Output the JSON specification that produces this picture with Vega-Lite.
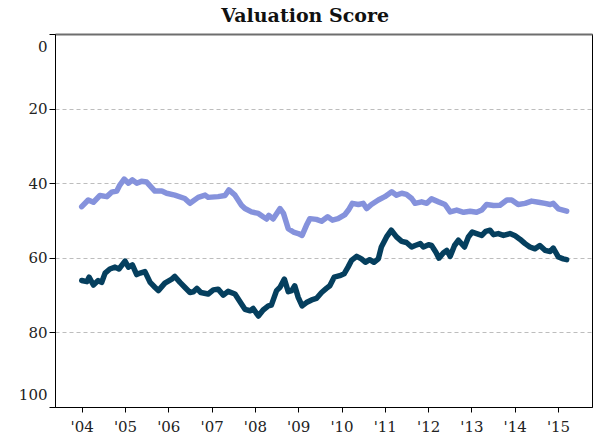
{
  "$schema": "https://vega.github.io/schema/vega-lite/v6.json",
  "width": 537,
  "height": 373,
  "autosize": "none",
  "padding": {"left": 55, "top": 34, "right": 5, "bottom": 31},
  "background": "white",
  "title": {"text": "Valuation Score", "font": "DejaVu Serif", "fontSize": 19, "fontWeight": "bold", "color": "#111111", "frame": "bounds", "anchor": "middle", "offset": 8},
  "config": {
    "view": {"stroke": "#000000", "strokeWidth": 1},
    "axis": {"labelFont": "DejaVu Serif", "labelFontSize": 15, "labelColor": "#222222", "domainColor": "#000000", "tickColor": "#000000", "title": null}
  },
  "data": {"values": [
    {"s": "light", "year": 2004.00, "v": 46.3}, {"s": "light", "year": 2004.15, "v": 44.5}, {"s": "light", "year": 2004.27, "v": 45.1},
    {"s": "light", "year": 2004.42, "v": 43.3}, {"s": "light", "year": 2004.58, "v": 43.6}, {"s": "light", "year": 2004.69, "v": 42.4},
    {"s": "light", "year": 2004.81, "v": 42.1}, {"s": "light", "year": 2004.88, "v": 40.5}, {"s": "light", "year": 2004.98, "v": 38.9},
    {"s": "light", "year": 2005.08, "v": 40.0}, {"s": "light", "year": 2005.17, "v": 39.1}, {"s": "light", "year": 2005.27, "v": 40.0},
    {"s": "light", "year": 2005.38, "v": 39.5}, {"s": "light", "year": 2005.50, "v": 39.7}, {"s": "light", "year": 2005.69, "v": 42.1},
    {"s": "light", "year": 2005.85, "v": 42.1}, {"s": "light", "year": 2005.96, "v": 42.7}, {"s": "light", "year": 2006.15, "v": 43.2},
    {"s": "light", "year": 2006.38, "v": 44.1}, {"s": "light", "year": 2006.50, "v": 45.4}, {"s": "light", "year": 2006.69, "v": 43.8},
    {"s": "light", "year": 2006.85, "v": 43.2}, {"s": "light", "year": 2006.92, "v": 43.8}, {"s": "light", "year": 2007.15, "v": 43.6},
    {"s": "light", "year": 2007.31, "v": 43.3}, {"s": "light", "year": 2007.40, "v": 41.8}, {"s": "light", "year": 2007.54, "v": 43.2},
    {"s": "light", "year": 2007.69, "v": 45.9}, {"s": "light", "year": 2007.77, "v": 46.8}, {"s": "light", "year": 2007.92, "v": 47.7},
    {"s": "light", "year": 2008.08, "v": 48.1}, {"s": "light", "year": 2008.19, "v": 49.0}, {"s": "light", "year": 2008.27, "v": 49.6},
    {"s": "light", "year": 2008.32, "v": 48.6}, {"s": "light", "year": 2008.42, "v": 49.6}, {"s": "light", "year": 2008.58, "v": 46.8},
    {"s": "light", "year": 2008.66, "v": 48.1}, {"s": "light", "year": 2008.77, "v": 52.2}, {"s": "light", "year": 2008.89, "v": 53.1},
    {"s": "light", "year": 2009.00, "v": 53.5}, {"s": "light", "year": 2009.09, "v": 54.0}, {"s": "light", "year": 2009.19, "v": 51.3},
    {"s": "light", "year": 2009.27, "v": 49.5}, {"s": "light", "year": 2009.42, "v": 49.7}, {"s": "light", "year": 2009.54, "v": 50.2},
    {"s": "light", "year": 2009.68, "v": 49.0}, {"s": "light", "year": 2009.79, "v": 49.9}, {"s": "light", "year": 2009.92, "v": 49.5},
    {"s": "light", "year": 2010.08, "v": 48.4}, {"s": "light", "year": 2010.16, "v": 47.2}, {"s": "light", "year": 2010.25, "v": 45.4},
    {"s": "light", "year": 2010.39, "v": 45.7}, {"s": "light", "year": 2010.50, "v": 45.4}, {"s": "light", "year": 2010.58, "v": 46.8},
    {"s": "light", "year": 2010.69, "v": 45.7}, {"s": "light", "year": 2010.85, "v": 44.5}, {"s": "light", "year": 2011.00, "v": 43.6},
    {"s": "light", "year": 2011.16, "v": 42.3}, {"s": "light", "year": 2011.27, "v": 43.2}, {"s": "light", "year": 2011.39, "v": 42.7},
    {"s": "light", "year": 2011.50, "v": 43.0}, {"s": "light", "year": 2011.62, "v": 44.1}, {"s": "light", "year": 2011.70, "v": 45.4},
    {"s": "light", "year": 2011.85, "v": 45.0}, {"s": "light", "year": 2011.97, "v": 45.4}, {"s": "light", "year": 2012.08, "v": 44.2},
    {"s": "light", "year": 2012.24, "v": 45.0}, {"s": "light", "year": 2012.39, "v": 45.7}, {"s": "light", "year": 2012.51, "v": 47.7},
    {"s": "light", "year": 2012.66, "v": 47.2}, {"s": "light", "year": 2012.82, "v": 47.8}, {"s": "light", "year": 2012.97, "v": 47.5},
    {"s": "light", "year": 2013.12, "v": 47.8}, {"s": "light", "year": 2013.24, "v": 47.2}, {"s": "light", "year": 2013.35, "v": 45.7},
    {"s": "light", "year": 2013.51, "v": 46.0}, {"s": "light", "year": 2013.66, "v": 45.9}, {"s": "light", "year": 2013.82, "v": 44.5},
    {"s": "light", "year": 2013.93, "v": 44.5}, {"s": "light", "year": 2014.08, "v": 45.7}, {"s": "light", "year": 2014.24, "v": 45.4},
    {"s": "light", "year": 2014.39, "v": 44.8}, {"s": "light", "year": 2014.55, "v": 45.1}, {"s": "light", "year": 2014.70, "v": 45.4},
    {"s": "light", "year": 2014.82, "v": 45.7}, {"s": "light", "year": 2014.89, "v": 45.4}, {"s": "light", "year": 2015.01, "v": 46.9},
    {"s": "light", "year": 2015.20, "v": 47.5},
    {"s": "dark", "year": 2004.00, "v": 66.1}, {"s": "dark", "year": 2004.12, "v": 66.4}, {"s": "dark", "year": 2004.17, "v": 65.2},
    {"s": "dark", "year": 2004.27, "v": 67.3}, {"s": "dark", "year": 2004.38, "v": 66.1}, {"s": "dark", "year": 2004.46, "v": 66.6},
    {"s": "dark", "year": 2004.54, "v": 64.1}, {"s": "dark", "year": 2004.65, "v": 63.0}, {"s": "dark", "year": 2004.77, "v": 62.5},
    {"s": "dark", "year": 2004.86, "v": 63.0}, {"s": "dark", "year": 2005.00, "v": 60.9}, {"s": "dark", "year": 2005.08, "v": 62.5},
    {"s": "dark", "year": 2005.17, "v": 61.9}, {"s": "dark", "year": 2005.27, "v": 64.5}, {"s": "dark", "year": 2005.35, "v": 64.1},
    {"s": "dark", "year": 2005.46, "v": 63.7}, {"s": "dark", "year": 2005.58, "v": 66.6}, {"s": "dark", "year": 2005.69, "v": 67.9},
    {"s": "dark", "year": 2005.77, "v": 68.8}, {"s": "dark", "year": 2005.92, "v": 66.8}, {"s": "dark", "year": 2006.08, "v": 65.7},
    {"s": "dark", "year": 2006.15, "v": 65.0}, {"s": "dark", "year": 2006.27, "v": 66.6}, {"s": "dark", "year": 2006.38, "v": 67.9},
    {"s": "dark", "year": 2006.50, "v": 69.3}, {"s": "dark", "year": 2006.58, "v": 69.1}, {"s": "dark", "year": 2006.66, "v": 68.2},
    {"s": "dark", "year": 2006.75, "v": 69.3}, {"s": "dark", "year": 2006.92, "v": 69.7}, {"s": "dark", "year": 2007.04, "v": 68.6},
    {"s": "dark", "year": 2007.15, "v": 68.4}, {"s": "dark", "year": 2007.27, "v": 70.0}, {"s": "dark", "year": 2007.38, "v": 69.0},
    {"s": "dark", "year": 2007.54, "v": 69.7}, {"s": "dark", "year": 2007.69, "v": 72.4}, {"s": "dark", "year": 2007.77, "v": 73.8},
    {"s": "dark", "year": 2007.89, "v": 74.2}, {"s": "dark", "year": 2007.96, "v": 73.6}, {"s": "dark", "year": 2008.08, "v": 75.6},
    {"s": "dark", "year": 2008.19, "v": 74.0}, {"s": "dark", "year": 2008.31, "v": 72.9}, {"s": "dark", "year": 2008.38, "v": 72.7},
    {"s": "dark", "year": 2008.50, "v": 68.8}, {"s": "dark", "year": 2008.58, "v": 67.9}, {"s": "dark", "year": 2008.68, "v": 65.7},
    {"s": "dark", "year": 2008.77, "v": 69.1}, {"s": "dark", "year": 2008.85, "v": 68.8}, {"s": "dark", "year": 2008.92, "v": 67.5},
    {"s": "dark", "year": 2009.00, "v": 70.6}, {"s": "dark", "year": 2009.09, "v": 72.9}, {"s": "dark", "year": 2009.19, "v": 72.0},
    {"s": "dark", "year": 2009.31, "v": 71.3}, {"s": "dark", "year": 2009.42, "v": 70.9}, {"s": "dark", "year": 2009.54, "v": 69.3},
    {"s": "dark", "year": 2009.65, "v": 68.2}, {"s": "dark", "year": 2009.73, "v": 67.5}, {"s": "dark", "year": 2009.83, "v": 65.2},
    {"s": "dark", "year": 2009.96, "v": 64.8}, {"s": "dark", "year": 2010.06, "v": 64.3}, {"s": "dark", "year": 2010.15, "v": 62.5},
    {"s": "dark", "year": 2010.23, "v": 60.7}, {"s": "dark", "year": 2010.35, "v": 59.6}, {"s": "dark", "year": 2010.46, "v": 60.3},
    {"s": "dark", "year": 2010.55, "v": 61.2}, {"s": "dark", "year": 2010.65, "v": 60.5}, {"s": "dark", "year": 2010.75, "v": 61.2},
    {"s": "dark", "year": 2010.85, "v": 60.3}, {"s": "dark", "year": 2010.92, "v": 57.1}, {"s": "dark", "year": 2011.04, "v": 54.4},
    {"s": "dark", "year": 2011.15, "v": 52.6}, {"s": "dark", "year": 2011.27, "v": 54.4}, {"s": "dark", "year": 2011.39, "v": 55.6},
    {"s": "dark", "year": 2011.50, "v": 55.9}, {"s": "dark", "year": 2011.62, "v": 57.1}, {"s": "dark", "year": 2011.70, "v": 56.7},
    {"s": "dark", "year": 2011.82, "v": 56.2}, {"s": "dark", "year": 2011.89, "v": 57.1}, {"s": "dark", "year": 2012.01, "v": 56.5},
    {"s": "dark", "year": 2012.08, "v": 56.7}, {"s": "dark", "year": 2012.18, "v": 58.5}, {"s": "dark", "year": 2012.25, "v": 60.1},
    {"s": "dark", "year": 2012.35, "v": 58.7}, {"s": "dark", "year": 2012.43, "v": 58.0}, {"s": "dark", "year": 2012.51, "v": 59.6},
    {"s": "dark", "year": 2012.61, "v": 56.7}, {"s": "dark", "year": 2012.70, "v": 55.3}, {"s": "dark", "year": 2012.84, "v": 57.1},
    {"s": "dark", "year": 2012.93, "v": 54.4}, {"s": "dark", "year": 2013.02, "v": 53.1}, {"s": "dark", "year": 2013.12, "v": 53.5},
    {"s": "dark", "year": 2013.24, "v": 54.0}, {"s": "dark", "year": 2013.33, "v": 52.9}, {"s": "dark", "year": 2013.43, "v": 52.6},
    {"s": "dark", "year": 2013.51, "v": 53.8}, {"s": "dark", "year": 2013.62, "v": 53.5}, {"s": "dark", "year": 2013.74, "v": 54.0},
    {"s": "dark", "year": 2013.89, "v": 53.5}, {"s": "dark", "year": 2014.01, "v": 54.1}, {"s": "dark", "year": 2014.12, "v": 55.0},
    {"s": "dark", "year": 2014.24, "v": 56.2}, {"s": "dark", "year": 2014.35, "v": 57.1}, {"s": "dark", "year": 2014.47, "v": 57.6},
    {"s": "dark", "year": 2014.58, "v": 56.7}, {"s": "dark", "year": 2014.70, "v": 58.0}, {"s": "dark", "year": 2014.82, "v": 58.3},
    {"s": "dark", "year": 2014.89, "v": 57.4}, {"s": "dark", "year": 2015.01, "v": 59.8}, {"s": "dark", "year": 2015.12, "v": 60.3},
    {"s": "dark", "year": 2015.20, "v": 60.5}
  ]},
  "resolve": {"axis": {"x": "independent", "y": "independent"}},
  "layer": [
    {
      "transform": [{"filter": "datum.s === 'light'"}],
      "mark": {"type": "line", "color": "#8592dc", "strokeWidth": 5.5, "strokeCap": "round", "strokeJoin": "round"},
      "encoding": {
        "x": {"field": "year", "type": "quantitative",
              "scale": {"domain": [2003.383, 2015.785], "nice": false, "zero": false},
              "axis": {"orient": "bottom", "values": [2004, 2005, 2006, 2007, 2008, 2009, 2010, 2011, 2012, 2013, 2014, 2015],
                       "labelExpr": "\"'\" + substring(format(datum.value, 'd'), 2)", "grid": false, "tickSize": 5, "labelPadding": 7}},
        "y": {"field": "v", "type": "quantitative",
              "scale": {"domain": [0, 100], "reverse": true, "nice": false},
              "axis": {"orient": "left", "values": [0, 20, 40, 60, 80, 100], "grid": true, "gridColor": "#bdbdbd", "gridDash": [4, 3], "gridWidth": 1,
                       "tickSize": 6, "labelPadding": 2, "labelFlush": true, "labelFlushOffset": -5}}
      }
    },
    {
      "transform": [{"filter": "datum.s === 'dark'"}],
      "mark": {"type": "line", "color": "#053f5e", "strokeWidth": 5.5, "strokeCap": "round", "strokeJoin": "round"},
      "encoding": {
        "x": {"field": "year", "type": "quantitative",
              "axis": {"orient": "top", "labels": false, "ticks": false, "grid": false, "domainColor": "#6e6e6e", "domainWidth": 2}},
        "y": {"field": "v", "type": "quantitative", "axis": null}
      }
    }
  ]
}
